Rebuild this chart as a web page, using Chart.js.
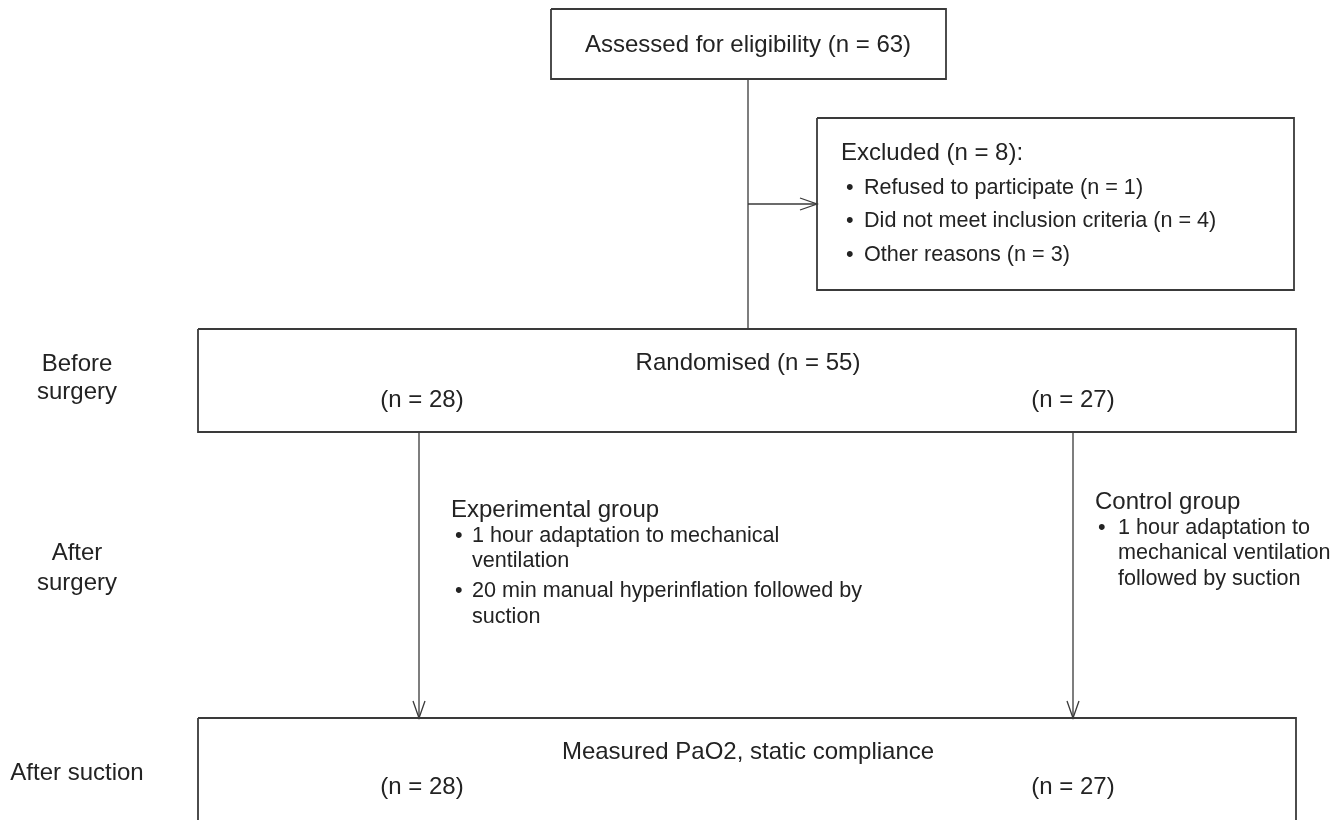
<!DOCTYPE html>
<html>
<head>
<meta charset="utf-8">
<title>Participant flow</title>
<script src="https://cdn.jsdelivr.net/npm/chart.js@4/dist/chart.umd.min.js"></script>
<style>
    html, body { margin: 0; padding: 0; background: #ffffff; }
    #flow { display: block; }
</style>
</head>
<body>
<canvas id="flow" width="1343" height="820"></canvas>
<script>
// ---- Flow counts ----
const assessedN = 63;
const excludedN = 8;
const exclusionReasons = ['Refused to participate', 'Did not meet inclusion criteria', 'Other reasons'];
const exclusionCounts = [1, 4, 3];
const randomisedN = 55;
const groupCounts = [28, 27];
const measuredCounts = [28, 27];
const stageLabels = [['Before', 'surgery'], ['After', 'surgery'], ['After suction']];
const groupNames = ['Experimental group', 'Control group'];
const groupSteps = [
    [['1 hour adaptation to mechanical', 'ventilation'], ['20 min manual hyperinflation followed by', 'suction']],
    [['1 hour adaptation to', 'mechanical ventilation', 'followed by suction']]
];

// ---- Diagram layout (diagram units = pixels of the 1343 x 820 page) ----
const boxLeft = [551, 817, 198, 198];
const boxTop = [9, 118, 329, 718];
const boxRight = [946, 1294, 1296, 1296];
const boxBottom = [79, 290, 432, 840];

const connectorX = [[748, 748], [748, 817], [419, 419], [1073, 1073]];
const connectorY = [[79, 329], [204, 204], [432, 718], [432, 718]];
const connectorArrow = [false, true, true, true];

const stageX = 77;
const stageY = [[364, 392], [553, 583], [773]];
const groupX = [422, 1073];
const groupTextLeft = [451, 1095];
const groupBulletLeft = [455, 1098];
const groupStepLeft = [472, 1118];
const groupTextTop = [510, 502];

const INK = '#232323';
const LINE = '#3a3a3a';
const FONT = '"Liberation Sans", Arial, Helvetica, sans-serif';
const HEAD_SIZE = 24;
const ITEM_SIZE = 21.6;

const toPoints = (xs, ys) => xs.map((x, i) => ({ x: x, y: ys[i] }));

const datasets = [];
boxLeft.forEach((x0, i) => {
    const x1 = boxRight[i], y0 = boxTop[i], y1 = boxBottom[i];
    datasets.push({
        type: 'line',
        data: toPoints([x0, x1, x1, x0, x0], [y0, y0, y1, y1, y0]),
        borderColor: LINE,
        borderWidth: 1.8,
        pointRadius: 0,
        tension: 0,
        clip: false
    });
});
connectorX.forEach((xs, i) => {
    datasets.push({
        type: 'line',
        data: toPoints(xs, connectorY[i]),
        borderColor: LINE,
        borderWidth: 1.3,
        pointRadius: 0,
        tension: 0,
        clip: false,
        arrow: connectorArrow[i]
    });
});

/**
 * Draws open arrow heads and all the text of the flow diagram
 */
const flowPlugin = {
    id: 'flowText',
    afterDatasetsDraw(chart) {
        const ctx = chart.ctx;
        const sx = chart.scales.x, sy = chart.scales.y;
        const px = v => sx.getPixelForValue(v);
        const py = v => sy.getPixelForValue(v);

        // Arrow heads at the end of each connector
        ctx.save();
        ctx.strokeStyle = LINE;
        ctx.lineWidth = 1.3;
        chart.data.datasets.forEach(ds => {
            if (!ds.arrow) return;
            const a = ds.data[ds.data.length - 2], b = ds.data[ds.data.length - 1];
            const x1 = px(b.x), y1 = py(b.y);
            const ang = Math.atan2(y1 - py(a.y), x1 - px(a.x));
            const len = 17, half = 6;
            ctx.beginPath();
            ctx.moveTo(x1 - len * Math.cos(ang) + half * Math.sin(ang), y1 - len * Math.sin(ang) - half * Math.cos(ang));
            ctx.lineTo(x1, y1);
            ctx.lineTo(x1 - len * Math.cos(ang) - half * Math.sin(ang), y1 - len * Math.sin(ang) + half * Math.cos(ang));
            ctx.stroke();
        });
        ctx.restore();

        const text = (str, x, y, size, align) => {
            ctx.font = size + 'px ' + FONT;
            ctx.textAlign = align || 'center';
            ctx.textBaseline = 'middle';
            ctx.fillText(str, px(x), py(y));
        };

        ctx.save();
        ctx.fillStyle = INK;

        // Boxes
        text(`Assessed for eligibility (n = ${assessedN})`, 748, 45, HEAD_SIZE);
        text(`Randomised (n = ${randomisedN})`, 748, 363, HEAD_SIZE);
        text('Measured PaO2, static compliance', 748, 752, HEAD_SIZE);
        groupCounts.forEach((n, i) => text(`(n = ${n})`, groupX[i], 400, HEAD_SIZE));
        measuredCounts.forEach((n, i) => text(`(n = ${n})`, groupX[i], 787, HEAD_SIZE));

        // Exclusions
        text(`Excluded (n = ${excludedN}):`, 841, 153, HEAD_SIZE, 'left');
        exclusionReasons.forEach((r, i) => {
            const y = 188 + i * 33.5;
            text('\u2022', 846, y, ITEM_SIZE, 'left');
            text(`${r} (n = ${exclusionCounts[i]})`, 864, y, ITEM_SIZE, 'left');
        });

        // Stage labels on the left
        stageLabels.forEach((lines, i) => {
            lines.forEach((l, j) => text(l, stageX, stageY[i][j], HEAD_SIZE));
        });

        // Group interventions
        groupNames.forEach((name, g) => {
            let y = groupTextTop[g];
            text(name, groupTextLeft[g], y, HEAD_SIZE, 'left');
            y += 26;
            groupSteps[g].forEach(step => {
                text('\u2022', groupBulletLeft[g], y, ITEM_SIZE, 'left');
                step.forEach((l, k) => {
                    text(l, groupStepLeft[g], y, ITEM_SIZE, 'left');
                    if (k < step.length - 1) y += 25.5;
                });
                y += 30;
            });
        });
        ctx.restore();
    }
};

new Chart(document.getElementById('flow'), {
    type: 'scatter',
    data: { datasets: datasets },
    options: {
        responsive: false,
        animation: false,
        events: [],
        layout: { padding: 0 },
        scales: {
            x: { type: 'linear', min: 0, max: 1343, display: false },
            y: { type: 'linear', min: 0, max: 820, reverse: true, display: false }
        },
        plugins: {
            legend: { display: false },
            tooltip: { enabled: false }
        }
    },
    plugins: [flowPlugin]
});
</script>
</body>
</html>
